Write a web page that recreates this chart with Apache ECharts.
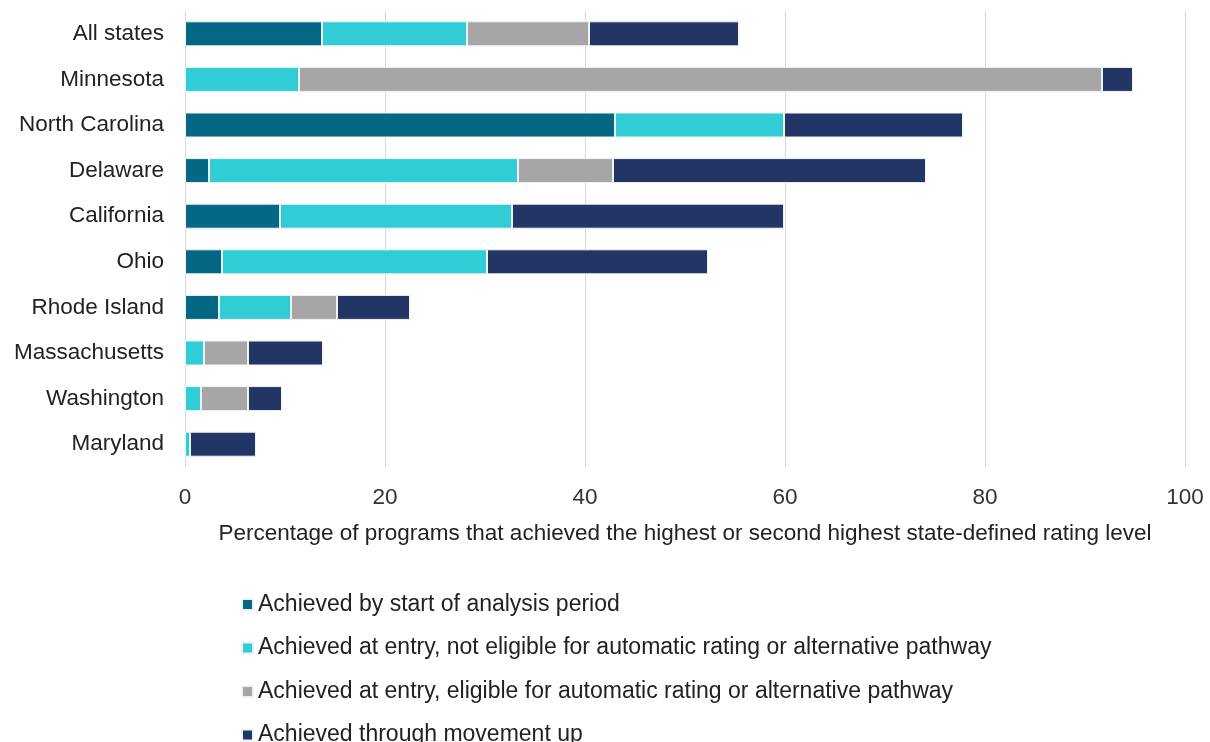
<!DOCTYPE html>
<html>
<head>
<meta charset="utf-8">
<script src="https://cdn.jsdelivr.net/npm/echarts@6/dist/echarts.min.js"></script>
<style>html,body{margin:0;padding:0;background:#fff}#c{width:1210px;height:742px}</style>
</head>
<body>
<div id="c"></div>
<script>
const categories = ["All states","Minnesota","North Carolina","Delaware","California","Ohio","Rhode Island","Massachusetts","Washington","Maryland"];
const seriesNames = [
  "Achieved by start of analysis period",
  "Achieved at entry, not eligible for automatic rating or alternative pathway",
  "Achieved at entry, eligible for automatic rating or alternative pathway",
  "Achieved through movement up"
];
const byStart      = [13.7, 0,    43.0, 2.4,  9.5,  3.7,  3.4, 0,   0,   0];
const entryNotElig = [14.5, 11.4, 16.9, 30.9, 23.2, 26.5, 7.2, 1.9, 1.6, 0.5];
const entryElig    = [12.2, 80.3, 0,    9.5,  0,    0,    4.6, 4.4, 4.7, 0];
const movementUp   = [15.0, 3.1,  17.9, 31.3, 27.2, 22.1, 7.3, 7.5, 3.4, 6.6];
const xTicks = [0, 20, 40, 60, 80, 100];
const xTitle = "Percentage of programs that achieved the highest or second highest state-defined rating level";

const colors = ["#046783", "#31CDD7", "#A6A6A6", "#233565"];
const FONT = "'Liberation Sans Narrow','Arial Narrow','Liberation Sans',sans-serif";
const values = [byStart, entryNotElig, entryElig, movementUp];

const chart = echarts.init(document.getElementById('c'), null, {renderer: 'canvas'});
chart.setOption({
  animation: false,
  textStyle: {fontFamily: FONT},
  grid: {left: 185, right: 25, top: 11, bottom: 275, containLabel: false},
  xAxis: {
    type: 'value', min: xTicks[0], max: xTicks[xTicks.length-1], interval: 20,
    axisLine: {show: false}, axisTick: {show: false},
    splitLine: {show: true, lineStyle: {color: '#d9d9d9', width: 1}},
    axisLabel: {fontFamily: FONT, fontSize: 22.5, color: '#333', margin: 19},
    name: xTitle, nameLocation: 'middle', nameGap: 55,
    nameTextStyle: {fontFamily: FONT, fontSize: 22.5, color: '#222'}
  },
  yAxis: {
    type: 'category', data: categories, inverse: true,
    axisLine: {show: false}, axisTick: {show: false},
    axisLabel: {fontFamily: FONT, fontSize: 22.5, color: '#222', margin: 21}
  },
  legend: {
    orient: 'vertical', left: 241, top: 593, height: 170, padding: 0,
    itemWidth: 11, itemHeight: 11, itemGap: 20.5,
    icon: 'rect',
    textStyle: {fontFamily: FONT, fontSize: 23, color: '#222', lineHeight: 22},
    data: seriesNames
  },
  series: seriesNames.map((n, i) => ({
    name: n, type: 'bar', stack: 'total',
    data: values[i],
    barWidth: 25,
    itemStyle: {color: colors[i], borderColor: '#eef3f6', borderWidth: 1}
  }))
});
</script>
</body>
</html>
